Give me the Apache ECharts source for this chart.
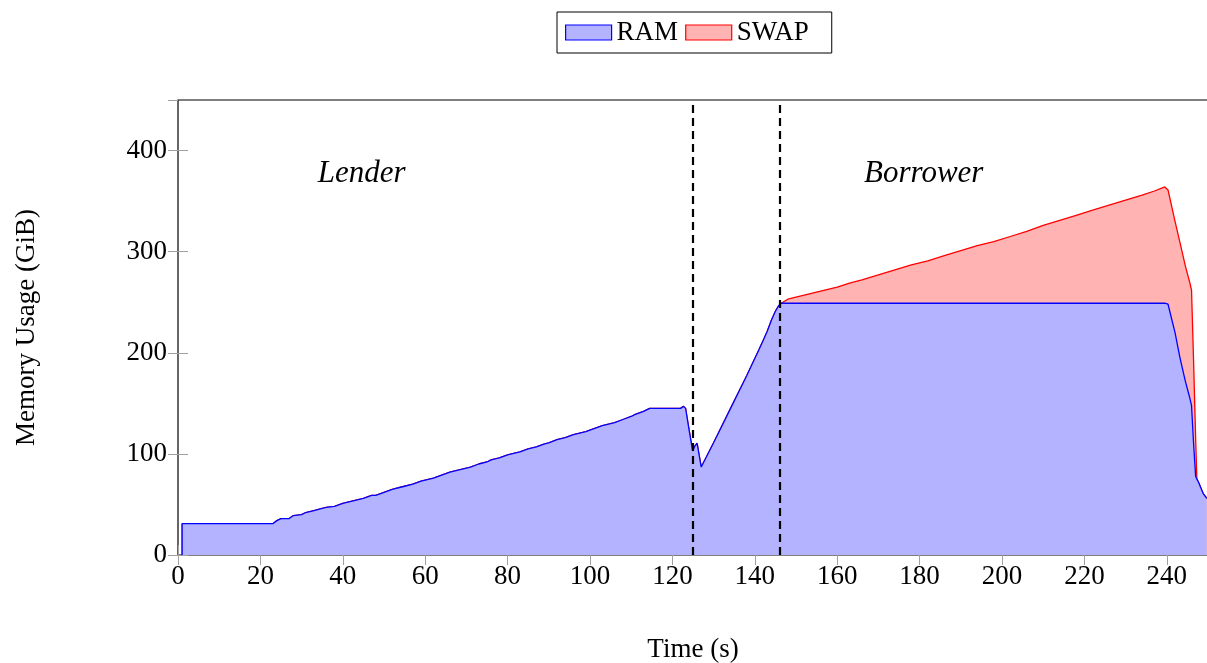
<!DOCTYPE html>
<html>
<head>
<meta charset="utf-8">
<script src="https://cdn.jsdelivr.net/npm/echarts@6/dist/echarts.min.js"></script>
<style>html,body{margin:0;padding:0;background:#fff;}#c{width:1207px;height:663px;}</style>
</head>
<body>
<div id="c"></div>
<script>
// Time stamps (s) shared by both series
var timeS = [1, 1, 23, 24, 25, 27, 28, 30, 31, 33, 35, 36, 38, 40, 41, 43, 45, 47, 48, 50, 52, 54, 55, 57, 59, 61, 62, 64, 66, 68, 69, 71, 73, 75, 76, 78, 80, 82, 83, 85, 87, 89, 90, 92, 94, 96, 97, 99, 101, 103, 104, 106, 108, 110, 111, 113, 114.5, 122, 122.7, 123.2, 124, 124.9, 125.5, 126, 127, 130, 134, 138, 141, 142, 143, 144, 145, 145.7, 146.4, 148, 150, 152, 155, 158, 160, 163, 166, 170, 174, 178, 182, 186, 190, 194, 198, 202, 206, 210, 214, 218, 222, 226, 230, 234, 237, 239.5, 240.3, 242, 243.2, 244.5, 245.6, 246, 246.5, 247, 247.3, 247.7, 248.8, 249.7];
// RAM usage (GiB)
var ramGiB = [0, 31, 31, 34, 36, 36, 39, 40, 42, 44, 46, 47, 48, 51, 52, 54, 56, 59, 59, 62, 65, 67, 68, 70, 73, 75, 76, 79, 82, 84, 85, 87, 90, 92, 94, 96, 99, 101, 102, 105, 107, 110, 111, 114, 116, 119, 120, 122, 125, 128, 129, 131, 134, 137, 139, 142, 145, 145, 147, 145, 125, 103, 108, 110.5, 87, 111, 144, 177, 203, 212, 221, 232, 241, 246, 249, 249, 249, 249, 249, 249, 249, 249, 249, 249, 249, 249, 249, 249, 249, 249, 249, 249, 249, 249, 249, 249, 249, 249, 249, 249, 249, 249, 248, 220, 195, 172, 155, 148, 110, 78, 75, 72, 61, 56];
// SWAP usage (GiB), stacked on top of RAM
var swapGiB = [0, 0, 0, 0, 0, 0, 0, 0, 0, 0, 0, 0, 0, 0, 0, 0, 0, 0, 0, 0, 0, 0, 0, 0, 0, 0, 0, 0, 0, 0, 0, 0, 0, 0, 0, 0, 0, 0, 0, 0, 0, 0, 0, 0, 0, 0, 0, 0, 0, 0, 0, 0, 0, 0, 0, 0, 0, 0, 0, 0, 0, 0, 0, 0, 0, 0, 0, 0, 0, 0, 0, 0, 0, 0, 0, 4, 6, 8, 11, 14, 16, 20, 23, 28, 33, 38, 42, 47, 52, 57, 61, 66, 71, 77, 82, 87, 92, 97, 102, 107, 111, 115, 113, 110, 114, 114, 114, 114, 82, 37, 0, 0, 0, 0];
// Phase boundaries (s)
var phaseLines = [125, 146];
var phaseLabels = [{name: 'Lender', x: 44.6, y: 377}, {name: 'Borrower', x: 181, y: 377}];

var FONT = '"Liberation Serif", "DejaVu Serif", serif';
var ramPts = timeS.map(function (t, i) { return [t, ramGiB[i]]; });
// stacked top = RAM + SWAP
var totalPts = timeS.map(function (t, i) { return [t, ramGiB[i] + swapGiB[i]]; });

var chart = echarts.init(document.getElementById('c'), null, {renderer: 'canvas'});
var tickStyle = {show: true, inside: true, length: 10, lineStyle: {color: '#a0a0a0', width: 1}};
chart.setOption({
  animation: false,
  backgroundColor: '#fff',
  textStyle: {fontFamily: FONT},
  legend: {
    left: 557, top: 12,
    padding: [7, 23, 7, 8],
    borderColor: '#000', borderWidth: 1,
    itemWidth: 46, itemHeight: 15, itemGap: 7,
    textStyle: {fontFamily: FONT, fontSize: 27, color: '#000'},
    data: [
      {name: 'RAM', icon: 'rect', itemStyle: {color: '#b3b3ff', borderColor: '#0000ff', borderWidth: 1.2}},
      {name: 'SWAP', icon: 'rect', itemStyle: {color: '#ffb3b3', borderColor: '#ff0000', borderWidth: 1.2}}
    ]
  },
  grid: {left: 178, top: 100, width: 1030, height: 455, containLabel: false, outerBoundsMode: 'none',
    show: true, borderColor: '#000', borderWidth: 1.2, backgroundColor: 'transparent'},
  xAxis: [{
    type: 'value', min: 0, max: 250, interval: 20,
    name: 'Time (s)', nameLocation: 'middle', nameGap: 81,
    nameTextStyle: {fontFamily: FONT, fontSize: 27, color: '#000'},
    axisLine: {show: false}, axisTick: tickStyle,
    axisLabel: {fontFamily: FONT, fontSize: 27, color: '#000', margin: 8, showMaxLabel: false},
    splitLine: {show: false}
  }, {
    type: 'value', position: 'top', min: 0, max: 250, interval: 20,
    axisLine: {show: false}, axisTick: tickStyle, axisLabel: {show: false}, splitLine: {show: false}
  }],
  yAxis: [{
    type: 'value', min: 0, max: 450, interval: 100,
    name: 'Memory Usage (GiB)', nameLocation: 'middle', nameGap: 138,
    nameTextStyle: {fontFamily: FONT, fontSize: 27, color: '#000'},
    axisLine: {show: false}, axisTick: tickStyle,
    axisLabel: {fontFamily: FONT, fontSize: 27, color: '#000', margin: 11, showMaxLabel: false},
    splitLine: {show: false}
  }, {
    type: 'value', position: 'right', min: 0, max: 450, interval: 100,
    axisLine: {show: false}, axisTick: tickStyle, axisLabel: {show: false}, splitLine: {show: false}
  }],
  series: [{
    name: 'SWAP', type: 'line', z: 2,
    data: totalPts, showSymbol: false, symbol: 'none',
    lineStyle: {color: '#ff0000', width: 1.3},
    itemStyle: {color: '#ff0000'},
    areaStyle: {color: '#ffb3b3', opacity: 1}
  }, {
    name: 'RAM', type: 'line', z: 3,
    data: ramPts, showSymbol: false, symbol: 'none',
    lineStyle: {color: '#0000ff', width: 1.3},
    itemStyle: {color: '#0000ff'},
    areaStyle: {color: '#b3b3ff', opacity: 1},
    markLine: {
      silent: true, symbol: ['none', 'none'], label: {show: false},
      lineStyle: {color: '#000', type: [8, 5], width: 2.2},
      data: phaseLines.map(function (v) { return {xAxis: v}; })
    },
    markPoint: {
      silent: true, symbol: 'circle', symbolSize: 0,
      label: {show: true, position: 'inside', fontFamily: FONT, fontStyle: 'italic', fontSize: 31, color: '#000',
        formatter: function (p) { return p.name; }},
      data: phaseLabels.map(function (d) { return {name: d.name, coord: [d.x, d.y]}; })
    }
  }]
});
</script>
</body>
</html>
